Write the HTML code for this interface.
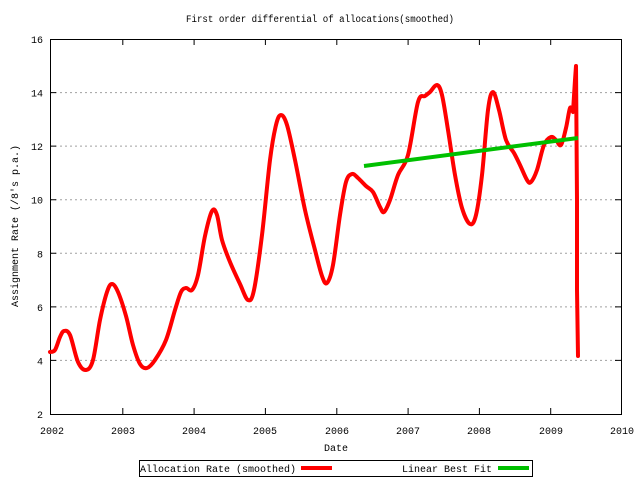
<!DOCTYPE html>
<html><head><style>
body{margin:0;background:#fff}
svg text{font-family:"Liberation Mono","DejaVu Sans Mono",monospace;font-size:10px;fill:#000}
</style></head><body>
<svg width="640" height="480" viewBox="0 0 640 480" xmlns="http://www.w3.org/2000/svg">
<rect width="640" height="480" fill="#fff"/>
<text x="186" y="22" textLength="268" lengthAdjust="spacingAndGlyphs">First order differential of allocations(smoothed)</text>
<g stroke="#a0a0a0" stroke-dasharray="2,3" stroke-width="1">
<line x1="50" y1="92.6" x2="621" y2="92.6"/>
<line x1="50" y1="146.1" x2="621" y2="146.1"/>
<line x1="50" y1="199.7" x2="621" y2="199.7"/>
<line x1="50" y1="253.3" x2="621" y2="253.3"/>
<line x1="50" y1="306.9" x2="621" y2="306.9"/>
<line x1="50" y1="360.4" x2="621" y2="360.4"/>
</g>
<g stroke="#000" stroke-width="1">
<path d="M122.8,414v-6M194.1,414v-6M265.4,414v-6M336.8,414v-6M408.1,414v-6M479.4,414v-6M550.7,414v-6M122.8,39v6M194.1,39v6M265.4,39v6M336.8,39v6M408.1,39v6M479.4,39v6M550.7,39v6"/>
<path d="M50,92.6h6M50,146.1h6M50,199.7h6M50,253.3h6M50,306.9h6M50,360.4h6M621,92.6h-6M621,146.1h-6M621,199.7h-6M621,253.3h-6M621,306.9h-6M621,360.4h-6"/>
<rect x="50.5" y="39.5" width="571" height="375" fill="none"/>
</g>
<g text-anchor="end">
<text x="43" y="43">16</text><text x="43" y="96.6">14</text><text x="43" y="150.1">12</text>
<text x="43" y="203.7">10</text><text x="43" y="257.3">8</text><text x="43" y="310.9">6</text>
<text x="43" y="364.4">4</text><text x="43" y="418">2</text>
</g>
<g text-anchor="middle">
<text x="52" y="434">2002</text><text x="123" y="434">2003</text><text x="194" y="434">2004</text>
<text x="265" y="434">2005</text><text x="337" y="434">2006</text><text x="408" y="434">2007</text>
<text x="479" y="434">2008</text><text x="551" y="434">2009</text><text x="622" y="434">2010</text>
<text x="336" y="451">Date</text>
</g>
<text transform="translate(18,226) rotate(-90)" text-anchor="middle">Assignment Rate (/8's p.a.)</text>
<path id="curve" fill="none" stroke="#ff0000" stroke-width="4" stroke-linejoin="round" stroke-linecap="round" d=""/>
<line x1="364" y1="166" x2="578" y2="138" stroke="#00c000" stroke-width="4"/>
<rect x="139.5" y="460.5" width="393" height="16" fill="none" stroke="#000"/>
<text x="140" y="472">Allocation Rate (smoothed)</text>
<line x1="301" y1="468" x2="332" y2="468" stroke="#ff0000" stroke-width="4"/>
<text x="402" y="472">Linear Best Fit</text>
<line x1="498" y1="468" x2="529" y2="468" stroke="#00c000" stroke-width="4"/>
</svg>
<script>
var p=[[50,352],[55,350],[60,337],[64,331],[70,335],[78,362],[86,370],[93,360],[100,320],[107,292],[112,284],[118,292],[126,316],[133,345],[140,364],[147,368],[155,360],[166,340],[175,310],[181,292],[186,288],[192,290],[198,275],[205,236],[212,211],[217,215],[222,240],[230,262],[240,284],[248,300],[254,290],[262,235],[270,160],[276,125],[281,115],[287,125],[295,160],[305,210],[315,250],[322,276],[327,283],[333,265],[340,215],[346,182],[352,174],[358,178],[366,186],[373,192],[380,207],[384,212],[390,200],[398,175],[408,155],[418,102],[425,96],[430,92],[437,85],[442,95],[448,130],[455,175],[462,208],[470,224],[476,215],[482,175],[488,110],[493,92],[499,110],[506,140],[514,153],[520,165],[527,180],[531,182],[537,170],[544,145],[551,137],[556,140],[561,145],[566,128],[570,108],[573,112]];
var d="M"+p[0][0]+","+p[0][1];
for(var i=0;i<p.length-1;i++){var a=p[Math.max(i-1,0)],b=p[i],c=p[i+1],e=p[Math.min(i+2,p.length-1)];
d+=" C"+(b[0]+(c[0]-a[0])/6)+","+(b[1]+(c[1]-a[1])/6)+" "+(c[0]-(e[0]-b[0])/6)+","+(c[1]-(e[1]-b[1])/6)+" "+c[0]+","+c[1];}
d+=" L575,80 L576,66 L577,200 L577,290 L578,356";
document.getElementById("curve").setAttribute("d",d);
</script>
</body></html>
